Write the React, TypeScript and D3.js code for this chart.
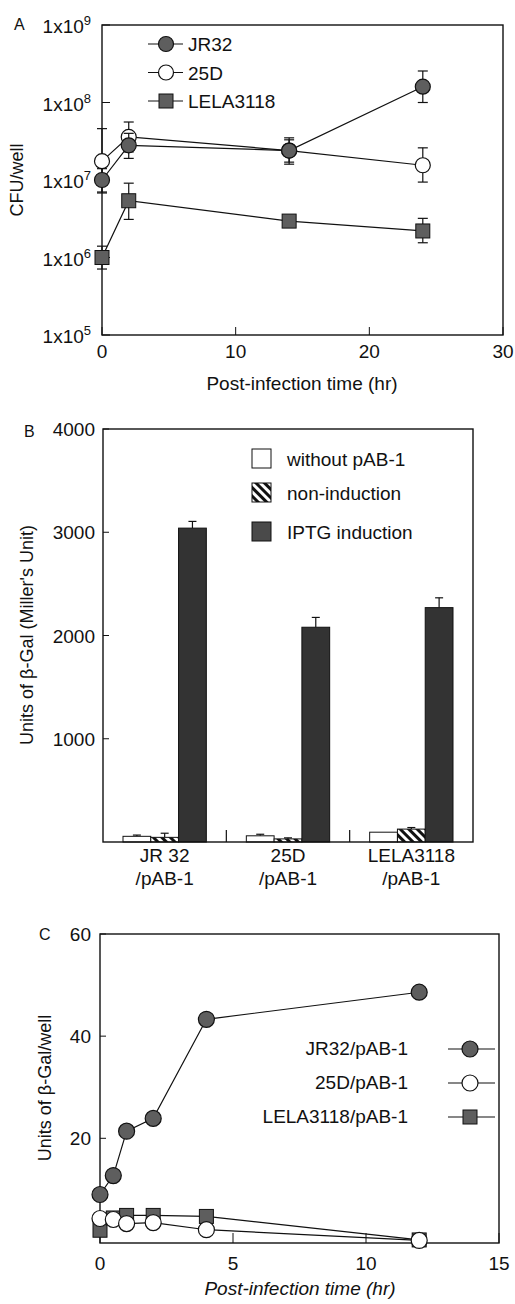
import React from "react";
import * as d3 from "d3";

const FONT = "'Liberation Sans', Arial, Helvetica, sans-serif";

// ---- panel A : CFU/well, log scale
const timeA = [0, 2, 14, 24];
const jr32A = [1.0e7, 2.8e7, 2.4e7, 1.6e8];
const jr32ALo = [6.8e6, 1.9e7, 1.6e7, 1.0e8];
const jr32AHi = [1.4e7, 4.0e7, 3.5e7, 2.55e8];
const d25A = [1.75e7, 3.6e7, 2.4e7, 1.55e7];
const d25ALo = [7.0e6, 2.3e7, 1.7e7, 9.4e6];
const d25AHi = [4.6e7, 5.6e7, 3.3e7, 2.6e7];
const lelaA = [1.0e6, 5.4e6, 2.95e6, 2.2e6];
const lelaALo = [7.1e5, 3.1e6, 2.7e6, 1.55e6];
const lelaAHi = [1.4e6, 9.1e6, 3.2e6, 3.2e6];
const expTicksA = [5, 6, 7, 8, 9];
const xTicksA = [0, 10, 20, 30];
const legendA = ["JR32", "25D", "LELA3118"];

// ---- panel B : beta-gal bars
const groupsB = ["JR 32", "25D", "LELA3118"];
const seriesB = ["without pAB-1", "non-induction", "IPTG induction"];
const withoutB = [55, 60, 95];
const withoutBErr = [12, 15, 0];
const nonIndB = [45, 30, 125];
const nonIndBErr = [40, 10, 15];
const iptgB = [3040, 2080, 2270];
const iptgBErr = [65, 95, 95];
const yTicksB = [1000, 2000, 3000, 4000];

// ---- panel C : beta-gal per well
const timeC = [0, 0.5, 1, 2, 4, 12];
const jr32C = [9.0, 12.7, 21.4, 23.9, 43.3, 48.6];
const d25C = [4.3, 4.1, 3.3, 3.5, 2.1, 0];
const lelaC = [2.0, 4.4, 4.9, 4.9, 4.7, 0.1];
const yTicksC = [20, 40, 60];
const xTicksC = [0, 5, 10, 15];
const legendC = ["JR32/pAB-1", "25D/pAB-1", "LELA3118/pAB-1"];

const GRAY = "#5e5e5e";
const DARK = "#333";

function Marker({ shape, x, y, fill, r }: any) {
  if (shape === "square")
    return <rect x={x - r} y={y - r} width={r * 2} height={r * 2} fill={fill} stroke="#111" strokeWidth={1} />;
  return <circle cx={x} cy={y} r={r} fill={fill} stroke="#111" strokeWidth={1.2} />;
}

function PanelA() {
  const x = d3.scaleLinear().domain([0, 30]).range([102, 503]);
  const y = d3.scaleLog().domain([1e5, 1e9]).range([335, 25]);
  const line = d3.line<number>().x((_, i) => x(timeA[i])).y((d) => y(d));
  const series = [
    { vals: d25A, lo: d25ALo, hi: d25AHi, shape: "circle", fill: "#fff" },
    { vals: jr32A, lo: jr32ALo, hi: jr32AHi, shape: "circle", fill: GRAY },
    { vals: lelaA, lo: lelaALo, hi: lelaAHi, shape: "square", fill: GRAY },
  ];
  const legendShapes = [
    { shape: "circle", fill: GRAY },
    { shape: "circle", fill: "#fff" },
    { shape: "square", fill: GRAY },
  ];
  return (
    <g>
      <text x={14} y={30} fontSize={16}>A</text>
      <rect x={102} y={25} width={401} height={310} fill="none" stroke="#111" strokeWidth={1.4} />
      {expTicksA.map((e) => (
        <g key={e}>
          <line x1={102} x2={110} y1={y(10 ** e)} y2={y(10 ** e)} stroke="#111" />
          <text x={91} y={y(10 ** e) + 8} textAnchor="end" fontSize={19}>
            <tspan>1x10</tspan>
            <tspan dy={-8} fontSize={13}>{e}</tspan>
          </text>
        </g>
      ))}
      {xTicksA.map((t) => (
        <g key={t}>
          <line x1={x(t)} x2={x(t)} y1={335} y2={327} stroke="#111" />
          <text x={x(t)} y={358} textAnchor="middle" fontSize={19}>{t}</text>
        </g>
      ))}
      <text x={302} y={390} textAnchor="middle" fontSize={19}>Post-infection time (hr)</text>
      <text transform="translate(23,180) rotate(-90)" textAnchor="middle" fontSize={18}>CFU/well</text>
      {series.map((s, k) => (
        <path key={k} d={line(s.vals) as string} fill="none" stroke="#111" strokeWidth={1.2} />
      ))}
      {series.map((s, k) => (
        <g key={k}>
          {s.vals.map((v, i) => (
            <g key={i} stroke="#111" strokeWidth={1.2}>
              <line x1={x(timeA[i])} x2={x(timeA[i])} y1={y(s.lo[i])} y2={y(s.hi[i])} />
              <line x1={x(timeA[i]) - 5} x2={x(timeA[i]) + 5} y1={y(s.lo[i])} y2={y(s.lo[i])} />
              <line x1={x(timeA[i]) - 5} x2={x(timeA[i]) + 5} y1={y(s.hi[i])} y2={y(s.hi[i])} />
            </g>
          ))}
          {s.vals.map((v, i) => (
            <Marker key={i} shape={s.shape} x={x(timeA[i])} y={y(v)} fill={s.fill} r={s.shape === "square" ? 7 : 7.5} />
          ))}
        </g>
      ))}
      {legendA.map((name, i) => (
        <g key={name}>
          <line x1={148} x2={183} y1={44 + i * 28.5} y2={44 + i * 28.5} stroke="#111" strokeWidth={1.2} />
          <Marker shape={legendShapes[i].shape} x={166} y={44 + i * 28.5} fill={legendShapes[i].fill} r={legendShapes[i].shape === "square" ? 7 : 7.5} />
          <text x={188} y={51 + i * 28.5} fontSize={19}>{name}</text>
        </g>
      ))}
    </g>
  );
}

function PanelB() {
  const x0 = d3.scaleBand().domain(groupsB).range([103, 473]);
  const x1 = d3.scaleBand().domain(seriesB).range([20, x0.bandwidth() - 20]);
  const y = d3.scaleLinear().domain([0, 4000]).range([842, 429]);
  const fills = ["#fff", "url(#hatch)", DARK];
  const vals = [withoutB, nonIndB, iptgB];
  const errs = [withoutBErr, nonIndBErr, iptgBErr];
  return (
    <g>
      <text x={24} y={437} fontSize={16}>B</text>
      {yTicksB.map((t) => (
        <g key={t}>
          <line x1={103} x2={109} y1={y(t)} y2={y(t)} stroke="#111" />
          <text x={95} y={y(t) + 7} textAnchor="end" fontSize={19}>{t}</text>
        </g>
      ))}
      <text transform="translate(33,635) rotate(-90)" textAnchor="middle" fontSize={18}>
        Units of β-Gal (Miller's Unit)
      </text>
      {groupsB.map((g, gi) => (
        <g key={g} transform={`translate(${x0(g)},0)`}>
          {seriesB.map((s, si) => {
            const v = vals[si][gi];
            const e = errs[si][gi];
            const bx = x1(s)!;
            const bw = x1.bandwidth();
            return (
              <g key={s}>
                {e > 0 && (
                  <g stroke="#111" strokeWidth={1.2}>
                    <line x1={bx + bw / 2} x2={bx + bw / 2} y1={y(v)} y2={y(v + e)} />
                    <line x1={bx + bw / 2 - 4} x2={bx + bw / 2 + 4} y1={y(v + e)} y2={y(v + e)} />
                  </g>
                )}
                <rect x={bx} y={y(v)} width={bw} height={842 - y(v)} fill={fills[si]} stroke="#111" strokeWidth={1} />
              </g>
            );
          })}
          <text x={x0.bandwidth() / 2} y={862} textAnchor="middle" fontSize={19}>{g}</text>
          <text x={x0.bandwidth() / 2} y={885} textAnchor="middle" fontSize={19}>/pAB-1</text>
          {gi > 0 && <line x1={0} x2={0} y1={842} y2={830} stroke="#111" strokeWidth={1.2} />}
        </g>
      ))}
      <rect x={103} y={429} width={370} height={413} fill="none" stroke="#111" strokeWidth={1.4} />
      {seriesB.map((s, i) => {
        const ty = [449, 483, 522][i];
        return (
          <g key={s}>
            <rect x={252} y={ty} width={19} height={19} fill={i === 2 ? "#4a4a4a" : fills[i]} stroke="#111" strokeWidth={1} />
            <text x={287} y={ty + 17} fontSize={19}>{s}</text>
          </g>
        );
      })}
    </g>
  );
}

function PanelC() {
  const x = d3.scaleLinear().domain([0, 15]).range([100, 499]);
  const y = d3.scaleLinear().domain([-0.5, 60]).range([1243, 934]);
  const line = d3.line<number>().x((_, i) => x(timeC[i])).y((d) => y(d));
  const series = [
    { vals: lelaC, shape: "square", fill: GRAY },
    { vals: d25C, shape: "circle", fill: "#fff" },
    { vals: jr32C, shape: "circle", fill: GRAY },
  ];
  const legendShapes = [
    { shape: "circle", fill: GRAY },
    { shape: "circle", fill: "#fff" },
    { shape: "square", fill: GRAY },
  ];
  const legendY = [1049, 1083, 1117];
  return (
    <g>
      <text x={39} y={940} fontSize={16}>C</text>
      <rect x={100} y={934} width={399} height={309} fill="none" stroke="#111" strokeWidth={1.4} />
      {yTicksC.map((t) => (
        <g key={t}>
          <line x1={100} x2={106} y1={y(t)} y2={y(t)} stroke="#111" />
          <text x={91} y={y(t) + 7} textAnchor="end" fontSize={19}>{t}</text>
        </g>
      ))}
      {xTicksC.map((t) => (
        <g key={t}>
          <line x1={x(t)} x2={x(t)} y1={1243} y2={1233} stroke="#111" />
          <text x={x(t)} y={1270} textAnchor="middle" fontSize={19}>{t}</text>
        </g>
      ))}
      <text x={300} y={1295} textAnchor="middle" fontSize={19} fontStyle="italic">Post-infection time (hr)</text>
      <text transform="translate(51,1088) rotate(-90)" textAnchor="middle" fontSize={18}>Units of β-Gal/well</text>
      {series.map((s, k) => (
        <path key={k} d={line(s.vals) as string} fill="none" stroke="#111" strokeWidth={1.2} />
      ))}
      {series.map((s, k) => (
        <g key={k}>
          {s.vals.map((v, i) => (
            <Marker key={i} shape={s.shape} x={x(timeC[i])} y={y(v)} fill={s.fill} r={s.shape === "square" ? 7 : 8} />
          ))}
        </g>
      ))}
      {legendC.map((name, i) => (
        <g key={name}>
          <text x={408} y={legendY[i] + 6} textAnchor="end" fontSize={19}>{name}</text>
          <line x1={448} x2={495} y1={legendY[i]} y2={legendY[i]} stroke="#111" strokeWidth={1.2} />
          <Marker shape={legendShapes[i].shape} x={470} y={legendY[i]} fill={legendShapes[i].fill} r={legendShapes[i].shape === "square" ? 7 : 8} />
        </g>
      ))}
    </g>
  );
}

export default function App() {
  return (
    <svg
      width={515}
      height={1304}
      style={{ position: "absolute", left: 0, top: 0, background: "#fff" }}
      fontFamily={FONT}
      fill="#111"
    >
      <defs>
        <pattern id="hatch" patternUnits="userSpaceOnUse" width={6} height={6} patternTransform="rotate(-45)">
          <rect width={6} height={6} fill="#fff" />
          <rect width={3} height={6} fill="#111" />
        </pattern>
      </defs>
      <PanelA />
      <PanelB />
      <PanelC />
    </svg>
  );
}
